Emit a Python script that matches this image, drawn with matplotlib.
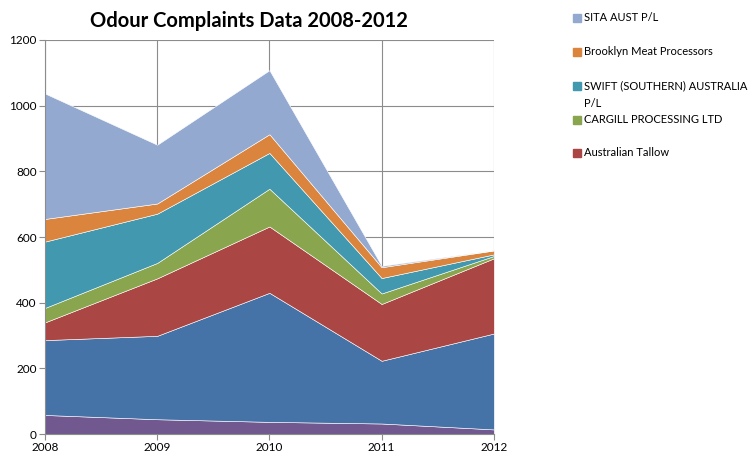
import numpy as np
import matplotlib.pyplot as plt
from matplotlib.patches import Rectangle

plt.rcParams['font.family'] = ['Lato', 'DejaVu Sans']

years = [2008, 2009, 2010, 2011, 2012]

# bottom two series have no legend entry in the original
other_a = [58, 45, 37, 32, 14]
other_b = [228, 254, 393, 191, 292]
tallow = [54, 175, 202, 173, 229]
cargill = [44, 47, 115, 32, 7]
swift = [202, 150, 109, 47, 5]
brooklyn = [69, 31, 57, 33, 12]
sita = [382, 179, 195, 4, 1]

series = [other_a, other_b, tallow, cargill, swift, brooklyn, sita]
colors = ['#71588F', '#4572A7', '#AA4643', '#89A54E', '#4198AF', '#DB843D', '#93A9CF']

legend_names = ["SITA AUST P/L", "Brooklyn Meat Processors",
                "SWIFT (SOUTHERN) AUSTRALIA\nP/L", "CARGILL PROCESSING LTD",
                "Australian Tallow"]
legend_colors = ['#93A9CF', '#DB843D', '#4198AF', '#89A54E', '#AA4643']

fig = plt.figure(figsize=(7.55, 4.57), dpi=100)
ax = fig.add_axes([0.0596, 0.0503, 0.5945, 0.8622])

ax.stackplot(years, *series, colors=colors, linewidth=0.4, edgecolor='white')

ax.set_xlim(2008, 2012)
ax.set_ylim(0, 1200)
ax.set_xticks(years)
ax.set_yticks(np.arange(0, 1201, 200))
ax.grid(True, color='#8c8c8c', linewidth=0.8)
ax.set_axisbelow(True)
ax.tick_params(labelsize=8.5, length=4, color='#8c8c8c', pad=2)
for s in ['top', 'right']:
    ax.spines[s].set_visible(False)
for s in ['left', 'bottom']:
    ax.spines[s].set_color('#8c8c8c')
    ax.spines[s].set_zorder(3)

fig.text(0.33, 0.955, "Odour Complaints Data 2008-2012", ha='center', va='center',
         fontsize=14.5, fontweight='bold')

# legend, drawn by hand so the slots keep Excel's fixed spacing
ys = [18, 52, 86, 120, 153]
for name, c, y in zip(legend_names, legend_colors, ys):
    fy = 1 - y / 457
    fig.patches.append(Rectangle((573 / 755, fy - 4 / 457), 8 / 755, 8 / 457,
                                 transform=fig.transFigure, color=c))
    fig.text(584 / 755, fy + 6 / 457, name, ha='left', va='top', fontsize=8,
             linespacing=1.75)

fig.savefig('out.png', dpi=100)
